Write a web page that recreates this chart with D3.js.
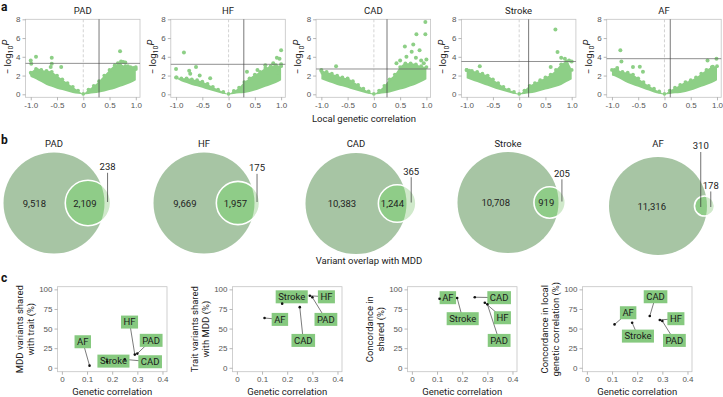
<!DOCTYPE html>
<html>
<head>
<meta charset="utf-8">
<script src="https://cdn.jsdelivr.net/npm/d3@7"></script>
<style>
  body { margin: 0; background: #fff; }
  svg { font-family: Roboto, sans-serif; }
</style>
</head>
<body>
<div id="chart"></div>
<script>
// ---------- data ----------
const traits = ["PAD", "HF", "CAD", "Stroke", "AF"];
const geneticCorr = [0.30, 0.29, 0.25, 0.18, 0.11];
const pThreshold = [3.3, 3.2, 2.7, 3.5, 3.8];

// local genetic correlation grid for the dense point cloud (panel a)
const cloudX = [-1.0, -0.9, -0.8, -0.7, -0.6, -0.5, -0.4, -0.3, -0.2, -0.1, 0,
                0.1, 0.2, 0.3, 0.4, 0.5, 0.6, 0.7, 0.8, 0.9, 1.0];
// upper / lower -log10P edge of the cloud, one row per trait
const cloudUpper = [
  [2.3, 2.7, 2.6, 2.5, 2.4, 2.0, 1.6, 1.2, 0.8, 0.4, 0.05, 0.5, 0.9, 1.4, 2.0, 2.6, 3.1, 3.2, 3.0, 2.9, 2.9],
  [1.8, 1.7, 1.7, 1.6, 1.5, 1.35, 1.1, 0.8, 0.5, 0.25, 0.05, 0.35, 0.7, 1.3, 1.7, 2.1, 2.4, 2.8, 3.0, 3.1, 3.0],
  [2.5, 2.4, 2.2, 2.0, 1.8, 1.7, 1.4, 1.0, 0.6, 0.3, 0.05, 0.4, 0.9, 1.6, 2.1, 2.9, 3.3, 3.3, 3.2, 3.0, 2.9],
  [2.6, 2.5, 2.4, 2.2, 2.0, 1.6, 1.2, 0.8, 0.5, 0.25, 0.05, 0.4, 0.9, 1.2, 1.5, 1.8, 2.1, 2.6, 3.2, 3.5, 2.6],
  [2.6, 2.6, 2.4, 2.3, 2.1, 1.7, 1.3, 0.9, 0.6, 0.3, 0.05, 0.4, 0.7, 1.0, 1.3, 1.5, 1.8, 2.2, 2.6, 2.9, 3.0]
];
const cloudLower = [
  [1.9, 1.6, 1.3, 1.0, 0.8, 0.6, 0.45, 0.3, 0.15, 0.05, 0, 0.03, 0.1, 0.2, 0.3, 0.45, 0.6, 0.8, 1.0, 1.2, 1.5],
  [1.7, 1.4, 1.2, 1.0, 0.85, 0.7, 0.5, 0.35, 0.2, 0.07, 0, 0.03, 0.1, 0.15, 0.25, 0.4, 0.6, 0.8, 1.0, 1.2, 1.5],
  [1.6, 1.4, 1.2, 1.0, 0.85, 0.7, 0.5, 0.35, 0.2, 0.07, 0, 0.03, 0.1, 0.2, 0.35, 0.5, 0.65, 0.85, 1.05, 1.3, 1.6],
  [1.7, 1.5, 1.3, 1.1, 0.9, 0.7, 0.5, 0.35, 0.2, 0.07, 0, 0.03, 0.1, 0.2, 0.35, 0.5, 0.65, 0.8, 1.0, 1.3, 1.6],
  [2.0, 1.8, 1.5, 1.2, 1.0, 0.8, 0.6, 0.4, 0.2, 0.07, 0, 0.03, 0.1, 0.15, 0.25, 0.4, 0.6, 0.8, 1.0, 1.2, 1.5]
];
// scattered points outside the cloud [local rg, -log10P]
const outliersPAD = [[-1.0, 3.6], [-0.99, 3.25], [-0.98, 2.2], [-0.97, 2.0], [-0.9, 4.0], [-0.88, 2.6], [-0.85, 2.5],
  [-0.8, 2.55], [-0.6, 3.9], [-0.6, 3.25], [-0.62, 2.9], [-0.42, 2.9], [0.7, 4.6], [0.72, 3.5], [0.76, 3.45],
  [0.8, 3.4], [0.66, 3.3], [0.85, 3.0], [0.95, 2.8], [1.0, 2.7]];
const outliersHF = [[-1.0, 2.7], [-0.99, 1.8], [-0.85, 4.45], [-0.75, 2.5], [-0.73, 2.2], [-0.62, 2.9], [-0.55, 2.0],
  [-0.35, 1.7], [0.35, 2.4], [0.55, 2.6], [0.7, 3.1], [0.85, 3.3], [0.92, 3.9], [0.97, 3.8], [1.0, 4.7], [1.0, 3.2], [0.95, 2.3]];
const outliersCAD = [[-1.0, 2.6], [-0.98, 2.3], [-0.72, 3.0], [0.43, 3.3], [0.5, 3.6], [0.59, 5.1], [0.62, 4.0],
  [0.72, 4.55], [0.75, 5.3], [0.8, 3.9], [0.81, 6.4], [0.87, 4.7], [0.9, 3.6], [0.98, 6.4], [0.98, 7.7], [1.0, 3.7], [0.95, 3.3]];
const outliersStroke = [[-1.0, 2.6], [-0.95, 2.5], [-0.75, 3.0], [0.6, 2.9], [0.69, 6.9], [0.73, 4.5], [0.8, 3.9],
  [0.87, 3.8], [0.9, 3.3], [0.95, 3.6], [1.0, 3.5]];
const outliersAF = [[-0.84, 4.7], [-0.82, 3.5], [-0.95, 2.6], [-0.9, 2.8], [-0.6, 2.9], [-0.47, 2.95], [-0.41, 2.4],
  [0.82, 3.6], [0.92, 2.95], [0.99, 3.8], [0.96, 2.6]];
const outliers = [outliersPAD, outliersHF, outliersCAD, outliersStroke, outliersAF];

// panel b: variant overlap with MDD
const mddOnly = [9518, 9669, 10383, 10708, 11316];
const shared = [2109, 1957, 1244, 919, 310];
const traitOnly = [238, 175, 365, 205, 178];

// panel c
const pctMddShared = [18.1, 16.8, 10.7, 7.9, 2.7];
const pctTraitShared = [89.9, 91.8, 77.3, 81.8, 63.5];
const concordShared = [81, 83, 90, 89, 88];
const concordLocal = [59.6, 61, 66, 57.4, 55.3];
const cYLabels = [
  ["MDD variants shared", "with trait (%)"],
  ["Trait variants shared", "with MDD (%)"],
  ["Concordance in", "shared (%)"],
  ["Concordance in local", "genetic correlation (%)"]
];

// ---------- layout ----------
const W = 723, H = 397;
const ptColor = "#8dcf86";
const boxColor = "#86c97f";
const tickColor = "#555";

const svg = d3.select("#chart").append("svg")
    .attr("width", W)
    .attr("height", H);

// panel letters
[["a", 11], ["b", 144], ["c", 282]].forEach(p => {
    svg.append("text")
        .attr("x", 1).attr("y", p[1])
        .text(p[0])
        .style("font-weight", "bold")
        .style("font-size", "12px")
        .style("fill", "#111");
});

function styleAxis(g) {
    g.select(".domain").remove();
    g.selectAll(".tick line").attr("stroke", "#999").attr("stroke-width", 0.7);
    g.selectAll(".tick text").style("font-size", "8px").style("fill", tickColor);
}
const fmtSigned = d => d === 0 ? "0" : d3.format(".1f")(d).replace("−", "-");

// ---------- panel a ----------
const aLeft = 25.5, aStep = 145.3, aW = 114.5, aTop = 19.3, aBot = 97.3;

traits.forEach((t, i) => {
    const x0 = aLeft + i * aStep;
    const x = d3.scaleLinear().domain([-1.1, 1.08]).range([x0, x0 + aW]);
    const y = d3.scaleLinear().domain([-0.32, 8]).range([aBot, aTop]);
    const g = svg.append("g");

    g.append("rect")
        .attr("x", x0).attr("y", aTop)
        .attr("width", aW).attr("height", aBot - aTop)
        .attr("fill", "none").attr("stroke", "#c4c4c4").attr("stroke-width", 0.8);

    g.append("g")
        .attr("transform", "translate(0," + aBot + ")")
        .call(d3.axisBottom(x).tickValues([-1, -0.5, 0, 0.5, 1]).tickFormat(fmtSigned).tickSize(3).tickPadding(2))
        .call(styleAxis);
    g.append("g")
        .attr("transform", "translate(" + x0 + ",0)")
        .call(d3.axisLeft(y).tickValues([0, 2, 4, 6, 8]).tickSize(3).tickPadding(2))
        .call(styleAxis);

    // dashed zero line
    g.append("line")
        .attr("x1", x(0)).attr("x2", x(0)).attr("y1", aTop).attr("y2", aBot)
        .attr("stroke", "#c8c8c8").attr("stroke-dasharray", "3,2").attr("stroke-width", 0.8);

    // dense cloud
    const area = d3.area()
        .x((d, j) => x(cloudX[j]))
        .y0((d, j) => y(cloudLower[i][j]))
        .y1(d => y(d))
        .curve(d3.curveMonotoneX);
    g.append("path")
        .datum(cloudUpper[i])
        .attr("d", area)
        .attr("fill", ptColor);

    g.selectAll(".edge")
        .data(cloudX.map((v, j) => [v, cloudUpper[i][j]]))
        .enter().append("circle")
        .attr("cx", d => x(d[0])).attr("cy", d => y(d[1]))
        .attr("r", 1.9).attr("fill", ptColor);

    g.selectAll(".out")
        .data(outliers[i])
        .enter().append("circle")
        .attr("cx", d => x(d[0])).attr("cy", d => y(d[1]))
        .attr("r", 2).attr("fill", ptColor);

    // significance threshold and global genetic correlation
    g.append("line")
        .attr("x1", x0).attr("x2", x0 + aW)
        .attr("y1", y(pThreshold[i])).attr("y2", y(pThreshold[i]))
        .attr("stroke", "#666").attr("stroke-opacity", 0.8).attr("stroke-width", 0.9);
    g.append("line")
        .attr("x1", x(geneticCorr[i])).attr("x2", x(geneticCorr[i]))
        .attr("y1", aTop).attr("y2", aBot)
        .attr("stroke", "#444").attr("stroke-opacity", 0.8).attr("stroke-width", 0.9);

    g.append("text")
        .attr("x", x0 + aW / 2).attr("y", 14)
        .attr("text-anchor", "middle")
        .text(t)
        .style("font-size", "9.5px").style("fill", "#222");

    const yl = g.append("text")
        .attr("transform", "translate(" + (x0 - 15) + ",57) rotate(-90)")
        .attr("text-anchor", "middle")
        .style("font-size", "9.5px").style("fill", "#222");
    yl.append("tspan").text("− log");
    yl.append("tspan").text("10").attr("dy", 2.5).style("font-size", "7px");
    yl.append("tspan").text("P").attr("dy", -4).style("font-style", "italic");
});

svg.append("text")
    .attr("x", 364).attr("y", 122)
    .attr("text-anchor", "middle")
    .text("Local genetic correlation")
    .style("font-size", "9.5px").style("fill", "#222");

// ---------- panel b ----------
const vennCx = [54, 204, 356, 508, 658];
const vennCy = [203, 203, 203.5, 202.5, 206];
const vennR = [50.5, 50.5, 50.5, 50.5, 49];

function lensArea(d, R, r) {
    if (d >= R + r) return 0;
    if (d <= R - r) return Math.PI * r * r;
    const a1 = r * r * Math.acos((d * d + r * r - R * R) / (2 * d * r));
    const a2 = R * R * Math.acos((d * d + R * R - r * r) / (2 * d * R));
    const a3 = 0.5 * Math.sqrt((-d + r + R) * (d + r - R) * (d - r + R) * (d + r + R));
    return a1 + a2 - a3;
}
function solveDist(R, r, target) {
    let lo = R - r, hi = R + r;
    for (let k = 0; k < 60; k++) {
        const mid = (lo + hi) / 2;
        if (lensArea(mid, R, r) > target) lo = mid; else hi = mid;
    }
    return (lo + hi) / 2;
}

const defs = svg.append("defs");
const fmtN = d3.format(",");

traits.forEach((t, i) => {
    const cx = vennCx[i], cy = vennCy[i], R = vennR[i];
    const mddTotal = mddOnly[i] + shared[i];
    const traitTotal = shared[i] + traitOnly[i];
    const rScale = d3.scaleSqrt().domain([0, mddTotal]).range([0, R]);
    const r = rScale(traitTotal);
    const d = solveDist(R, r, Math.PI * R * R * shared[i] / mddTotal);
    const sx = cx + d;
    const g = svg.append("g");

    defs.append("clipPath").attr("id", "big" + i)
        .append("circle").attr("cx", cx).attr("cy", cy).attr("r", R);

    g.append("circle").attr("cx", cx).attr("cy", cy).attr("r", R).attr("fill", "#a7c5a4");
    g.append("circle").attr("cx", sx).attr("cy", cy).attr("r", r).attr("fill", "#d0e9cb");
    g.append("circle").attr("cx", sx).attr("cy", cy).attr("r", r)
        .attr("clip-path", "url(#big" + i + ")").attr("fill", "#8fcc88");
    g.append("circle").attr("cx", sx).attr("cy", cy).attr("r", r)
        .attr("fill", "none").attr("stroke", "#fff").attr("stroke-width", 1.6);

    g.append("text")
        .attr("x", cx).attr("y", 147).attr("text-anchor", "middle")
        .text(t).style("font-size", "9.5px").style("fill", "#222");

    const numStyle = s => s.attr("text-anchor", "middle").style("font-size", "9.5px").style("fill", "#222");

    g.append("text")
        .attr("x", ((cx - R) + (sx - r)) / 2).attr("y", cy + 3.5)
        .text(fmtN(mddOnly[i])).call(numStyle);

    const shX = ((sx - r) + (cx + R)) / 2;
    if (r > 12) {
        g.append("text").attr("x", shX).attr("y", cy + 3.5)
            .text(fmtN(shared[i])).call(numStyle);
    } else {
        g.append("text").attr("x", shX).attr("y", cy - 57)
            .text(fmtN(shared[i])).call(numStyle);
        g.append("line").attr("x1", shX).attr("x2", shX).attr("y1", cy - 54).attr("y2", cy + 1)
            .attr("stroke", "#333").attr("stroke-width", 0.7);
    }

    const trX = ((cx + R) + (sx + r)) / 2;
    const trY = r > 12 ? cy - r - 10 : cy - r - 7;
    g.append("text").attr("x", trX).attr("y", trY)
        .text(fmtN(traitOnly[i])).call(numStyle);
    g.append("line").attr("x1", trX).attr("x2", trX).attr("y1", trY + 2.5).attr("y2", r > 12 ? cy - 1 : cy + 1)
        .attr("stroke", "#333").attr("stroke-width", 0.7);
});

svg.append("text")
    .attr("x", 369).attr("y", 264)
    .attr("text-anchor", "middle")
    .text("Variant overlap with MDD")
    .style("font-size", "9.5px").style("fill", "#222");

// ---------- panel c ----------
const cValues = [pctMddShared, pctTraitShared, concordShared, concordLocal];
// label anchors [genetic correlation, %] as placed in the original
const cLabelPos = [
    [[0.355, 35], [0.269, 58.3], [0.351, 7.7], [0.205, 8.5], [0.083, 33.2]],
    [[0.354, 61.7], [0.356, 90.5], [0.264, 34.9], [0.218, 90.5], [0.171, 61.7]],
    [[0.347, 34.9], [0.36, 63.8], [0.347, 89.4], [0.202, 62.6], [0.143, 89.4]],
    [[0.348, 34.9], [0.354, 62.6], [0.273, 90.6], [0.203, 40.4], [0.164, 70.2]]
];
const cLeft = 57.5, cStep = 175, cW = 109.5, cTop = 286.7, cBot = 371.7;

cValues.forEach((vals, p) => {
    const x0 = cLeft + p * cStep;
    const x = d3.scaleLinear().domain([-0.0175, 0.418]).range([x0, x0 + cW]);
    const y = d3.scaleLinear().domain([-5, 103.4]).range([cBot, cTop]);
    const g = svg.append("g");

    g.append("rect")
        .attr("x", x0).attr("y", cTop)
        .attr("width", cW).attr("height", cBot - cTop)
        .attr("fill", "none").attr("stroke", "#c4c4c4").attr("stroke-width", 0.8);

    g.append("g")
        .attr("transform", "translate(0," + cBot + ")")
        .call(d3.axisBottom(x).tickValues([0, 0.1, 0.2, 0.3, 0.4]).tickFormat(d => d === 0 ? "0" : d3.format(".1f")(d)).tickSize(3).tickPadding(2))
        .call(styleAxis);
    g.append("g")
        .attr("transform", "translate(" + x0 + ",0)")
        .call(d3.axisLeft(y).tickValues([0, 25, 50, 75, 100]).tickSize(3).tickPadding(2))
        .call(styleAxis);

    g.append("text")
        .attr("x", x0 + cW / 2).attr("y", 395)
        .attr("text-anchor", "middle")
        .text("Genetic correlation")
        .style("font-size", "9.5px").style("fill", "#222");

    cYLabels[p].forEach((line, k) => {
        g.append("text")
            .attr("transform", "translate(" + (x0 - 38 + k * 11.5) + "," + ((cTop + cBot) / 2) + ") rotate(-90)")
            .attr("text-anchor", "middle")
            .attr("dy", "0.35em")
            .text(line)
            .style("font-size", "9.5px").style("fill", "#222");
    });

    // leader lines
    g.selectAll(".seg")
        .data(traits)
        .enter().append("line")
        .attr("x1", (d, i) => x(geneticCorr[i])).attr("y1", (d, i) => y(vals[i]))
        .attr("x2", (d, i) => x(cLabelPos[p][i][0])).attr("y2", (d, i) => y(cLabelPos[p][i][1]))
        .attr("stroke", "#222").attr("stroke-width", 0.6);

    // label boxes
    traits.forEach((t, i) => {
        const lx = x(cLabelPos[p][i][0]), ly = y(cLabelPos[p][i][1]);
        const lg = g.append("g");
        const rect = lg.append("rect").attr("fill", boxColor);
        const txt = lg.append("text")
            .attr("x", lx).attr("y", ly).attr("dy", "0.35em")
            .attr("text-anchor", "middle")
            .text(t)
            .style("font-size", "9.5px").style("fill", "#1a1a1a");
        const w = txt.node().getComputedTextLength() + 5;
        rect.attr("x", lx - w / 2).attr("y", ly - 6.5).attr("width", w).attr("height", 13);
    });

    g.selectAll(".dot")
        .data(traits)
        .enter().append("circle")
        .attr("cx", (d, i) => x(geneticCorr[i])).attr("cy", (d, i) => y(vals[i]))
        .attr("r", 1.3).attr("fill", "#111");
});
</script>
</body>
</html>
